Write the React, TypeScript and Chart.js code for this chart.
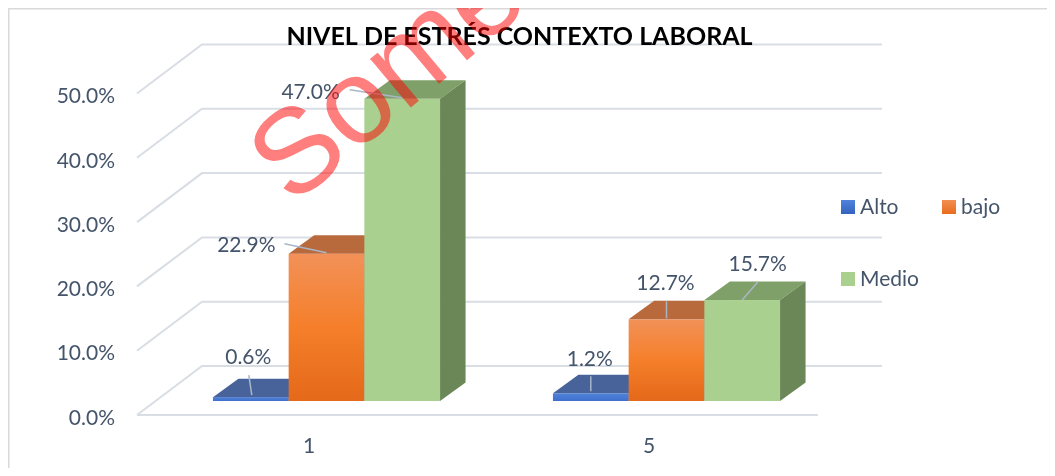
import React, { useEffect, useRef } from "react";
import { Chart, registerables } from "chart.js";

Chart.register(...registerables);

// ---------- data ----------
const categories = ["1", "5"];
const seriesNames = ["Alto", "bajo", "Medio"];
const altoValues = [0.006, 0.012];
const bajoValues = [0.229, 0.127];
const medioValues = [0.47, 0.157];
const yMin = 0;
const yMax = 0.5;
const yStep = 0.1;
const chartTitle = "NIVEL DE ESTRÉS CONTEXTO LABORAL";
const watermarkText = "Some";

// ---------- style ----------
const TEXT = "#44546A";
const GRID = "#D9DDE4";
const FONT = "Lato, 'Open Sans', sans-serif";
const FS = 21;

const palette = [
  { front: ["#5083DC", "#3F6FCB"], top: "#48639A", side: "#2F4F8F", legend: ["#5083DC", "#3562BE"] },
  { front: ["#F29158", "#F57F2A", "#E4691A"], top: "#B86A3C", side: "#A65A2A", legend: ["#F28E52", "#E86C1C"] },
  { front: ["#A9D08E", "#A9D08E"], top: "#80A06A", side: "#6B8757", legend: ["#A9D08E", "#A9D08E"] },
];

const DEPTH = { x: 25.5, y: -18.5 };
const FRONT = { x: -19.5, y: 14 };
const BACK = { x: 45.5, y: -35 };

// label placement relative to (bar centre x, bar top y)
const labelLayout = [
  [
    { tx: -2.5, ty: -40, align: "center", s: [-2, -22], e: [1, -2] },
    { tx: -1, ty: -34, align: "center", s: [0, -17], e: [0, -2] },
  ],
  [
    { tx: -51, ty: -9, align: "right", s: [-42, -10], e: [0, -1] },
    { tx: -1, ty: -36, align: "center", s: [0, -18], e: [0, -1] },
  ],
  [
    { tx: -62.5, ty: -7, align: "right", s: [-52.5, -9], e: [0, -1] },
    { tx: 15.5, ty: -35.5, align: "center", s: [15.5, -18], e: [0, 0] },
  ],
];

const pct = (v: number) => (v * 100).toFixed(1) + "%";

const threeDPlugin = {
  id: "threeD",
  beforeDraw(chart: any) {
    const { ctx, chartArea: ca } = chart;
    const y = chart.scales.y;
    ctx.save();
    ctx.fillStyle = "#ffffff";
    ctx.fillRect(0, 0, chart.width, chart.height);
    // outer border (top and left)
    ctx.strokeStyle = "#D9D9D9";
    ctx.lineWidth = 1.5;
    ctx.beginPath();
    ctx.moveTo(0.75, chart.height);
    ctx.lineTo(0.75, 0.75);
    ctx.lineTo(chart.width, 0.75);
    ctx.stroke();
    // walls
    ctx.strokeStyle = GRID;
    ctx.lineWidth = 2;
    for (const t of y.ticks) {
      const yb = y.getPixelForValue(t.value);
      ctx.beginPath();
      ctx.moveTo(ca.left + FRONT.x, yb + FRONT.y);
      ctx.lineTo(ca.left + BACK.x, yb + BACK.y);
      ctx.lineTo(ca.right + BACK.x, yb + BACK.y);
      ctx.stroke();
    }
    const y0 = y.getPixelForValue(0);
    ctx.beginPath();
    ctx.moveTo(ca.left + FRONT.x, y0 + FRONT.y);
    ctx.lineTo(ca.right + FRONT.x + 1, y0 + FRONT.y);
    ctx.stroke();
    ctx.restore();
  },
  afterDatasetsDraw(chart: any) {
    const { ctx } = chart;
    ctx.save();
    const nd = chart.data.datasets.length;
    for (let c = 0; c < chart.data.labels.length; c++) {
      for (let d = 0; d < nd; d++) {
        const el = chart.getDatasetMeta(d).data[c];
        const p = el.getProps(["x", "y", "base", "width"], true);
        const L = p.x - p.width / 2;
        const R = p.x + p.width / 2;
        const T = p.y;
        const B = p.base;
        const pal = palette[d];
        const g = ctx.createLinearGradient(0, T, 0, B);
        pal.front.forEach((col: string, i: number) => g.addColorStop(i / (pal.front.length - 1), col));
        ctx.fillStyle = g;
        ctx.fillRect(L, T, R - L, B - T);
        // top face
        ctx.fillStyle = pal.top;
        ctx.beginPath();
        ctx.moveTo(L, T);
        ctx.lineTo(R, T);
        ctx.lineTo(R + DEPTH.x, T + DEPTH.y);
        ctx.lineTo(L + DEPTH.x, T + DEPTH.y);
        ctx.closePath();
        ctx.fill();
        // side face
        ctx.fillStyle = pal.side;
        ctx.beginPath();
        ctx.moveTo(R, T);
        ctx.lineTo(R + DEPTH.x, T + DEPTH.y);
        ctx.lineTo(R + DEPTH.x, B + DEPTH.y);
        ctx.lineTo(R, B);
        ctx.closePath();
        ctx.fill();
      }
    }
    // data labels
    ctx.font = `${FS}px ${FONT}`;
    ctx.textBaseline = "middle";
    for (let d = 0; d < nd; d++) {
      const ds = chart.data.datasets[d];
      for (let c = 0; c < chart.data.labels.length; c++) {
        const el = chart.getDatasetMeta(d).data[c];
        const p = el.getProps(["x", "y"], true);
        const lay = labelLayout[d][c];
        ctx.strokeStyle = "#A9B6C8";
        ctx.lineWidth = 1.5;
        ctx.beginPath();
        ctx.moveTo(p.x + lay.s[0], p.y + lay.s[1]);
        ctx.lineTo(p.x + lay.e[0], p.y + lay.e[1]);
        ctx.stroke();
        ctx.fillStyle = TEXT;
        ctx.textAlign = lay.align;
        ctx.fillText(pct(ds.data[c]), p.x + lay.tx, p.y + lay.ty);
      }
    }
    ctx.restore();
  },
  afterDraw(chart: any) {
    const { ctx } = chart;
    ctx.save();
    // title
    ctx.fillStyle = "#000000";
    ctx.font = `bold 25px ${FONT}`;
    ctx.textAlign = "center";
    ctx.textBaseline = "alphabetic";
    ctx.fillText(chartTitle, 511.5, 37);
    // legend
    const legendPos = [
      [833, 199],
      [934, 199],
      [833, 271],
    ];
    ctx.font = `${FS}px ${FONT}`;
    ctx.textAlign = "left";
    ctx.textBaseline = "middle";
    chart.data.datasets.forEach((ds: any, i: number) => {
      const [lx, ly] = legendPos[i];
      const g = ctx.createLinearGradient(0, ly - 7, 0, ly + 7);
      g.addColorStop(0, palette[i].legend[0]);
      g.addColorStop(1, palette[i].legend[1]);
      ctx.fillStyle = g;
      ctx.fillRect(lx, ly - 7, 14, 14);
      ctx.fillStyle = TEXT;
      ctx.fillText(ds.label, lx + 19, ly);
    });
    // watermark
    ctx.translate(284, 199);
    ctx.rotate((-40 * Math.PI) / 180);
    ctx.font = `120px 'Liberation Sans', sans-serif`;
    ctx.fillStyle = "rgba(255,0,0,0.5)";
    ctx.textAlign = "left";
    ctx.textBaseline = "alphabetic";
    ctx.fillText(watermarkText, 0, 0);
    ctx.restore();
  },
};

export default function App() {
  const ref = useRef<HTMLCanvasElement | null>(null);
  useEffect(() => {
    if (!ref.current) return;
    const chart = new Chart(ref.current, {
      type: "bar",
      data: {
        labels: categories,
        datasets: [
          { label: seriesNames[0], data: altoValues },
          { label: seriesNames[1], data: bajoValues },
          { label: seriesNames[2], data: medioValues },
        ].map((d) => ({
          ...d,
          backgroundColor: "rgba(0,0,0,0)",
          borderWidth: 0,
          barPercentage: 1,
          categoryPercentage: 0.668,
        })),
      },
      options: {
        animation: false,
        responsive: false,
        devicePixelRatio: 1,
        layout: { padding: { top: 71.5, right: 210.5, left: 0, bottom: 0 } },
        plugins: {
          legend: { display: false },
          title: { display: false },
          tooltip: { enabled: false },
        },
        scales: {
          x: {
            grid: { display: false, drawTicks: false },
            border: { display: false },
            ticks: {
              color: TEXT,
              font: { family: FONT, size: FS },
              padding: 33,
              labelOffset: -17.5,
              maxRotation: 0,
            },
            afterFit: (s: any) => {
              s.height = 67;
            },
          },
          y: {
            min: yMin,
            max: yMax,
            grid: { display: false, drawTicks: false },
            border: { display: false },
            ticks: {
              stepSize: yStep,
              color: TEXT,
              font: { family: FONT, size: FS },
              padding: 41.5,
              labelOffset: 17,
              callback: (v: any) => pct(Number(v)),
            },
            afterFit: (s: any) => {
              s.width = 148.5;
            },
          },
        },
      },
      plugins: [threeDPlugin],
    });
    return () => chart.destroy();
  }, []);
  return (
    <div style={{ width: 1039, height: 460 }}>
      <canvas ref={ref} width={1039} height={460} style={{ display: "block" }} />
    </div>
  );
}
